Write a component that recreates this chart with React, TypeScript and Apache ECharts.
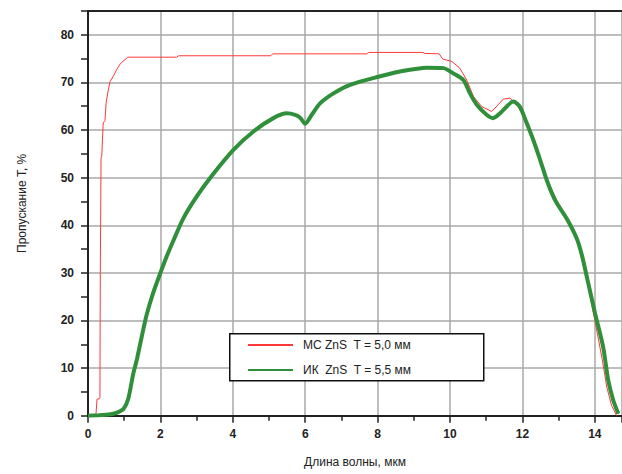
import React, { useEffect, useRef } from "react";
import * as echarts from "echarts";

// МС ZnS, T = 5.0 mm
const redX = [0, 0.22, 0.25, 0.3, 0.33, 0.34, 0.36, 0.38, 0.42, 0.47, 0.5, 0.56, 0.61, 0.7, 0.8, 0.9, 1.1, 2.45, 2.5, 5.05, 5.1, 7.7, 7.75, 9.25, 9.3, 9.7, 9.8, 10.05, 10.27, 10.46, 10.65, 10.88, 11.15, 11.33, 11.47, 11.66, 11.85, 12.12, 12.3, 12.49, 12.67, 12.95, 13.23, 13.5, 13.78, 14.0, 14.2, 14.33, 14.46, 14.6];
const redY = [0, 0.3, 3.5, 3.5, 3.8, 30, 54, 54.5, 61.5, 62, 65.7, 68.4, 70.2, 71.3, 72.8, 74.0, 75.3, 75.3, 75.6, 75.6, 76.0, 76.0, 76.3, 76.3, 76.1, 76.0, 74.9, 74.4, 73.0, 70.5, 67.0, 64.9, 63.9, 65.3, 66.5, 66.7, 65.3, 61.6, 58.2, 54.2, 49.8, 45.2, 41.6, 37, 28.5, 20, 12, 6, 2.2, 0];

// ИК ZnS, T = 5.5 mm
const greenX = [0, 0.3, 0.5, 0.7, 0.85, 0.98, 1.11, 1.25, 1.35, 1.49, 1.62, 1.8, 1.99, 2.17, 2.36, 2.63, 3.0, 3.42, 4.01, 4.57, 5.12, 5.49, 5.72, 5.86, 6.0, 6.18, 6.41, 6.78, 7.24, 8.02, 8.62, 9.36, 9.82, 10.09, 10.37, 10.55, 10.74, 11.01, 11.19, 11.38, 11.75, 11.93, 12.12, 12.3, 12.49, 12.67, 12.82, 12.95, 13.23, 13.5, 13.65, 13.78, 14.0, 14.23, 14.37, 14.51, 14.65];
const greenY = [0, 0.1, 0.2, 0.4, 0.8, 1.4, 3.5, 8.8, 11.8, 16.8, 21.2, 25.8, 29.8, 33.4, 36.8, 41.4, 46, 50.4, 55.8, 59.7, 62.5, 63.5, 63.2, 62.6, 61.3, 63.2, 65.6, 67.7, 69.5, 71.2, 72.3, 73.1, 73.0, 71.9, 70.5, 67.7, 65.3, 63.2, 62.5, 63.5, 66, 64.9, 61.4, 57.9, 53.7, 49.5, 46.6, 44.6, 41.3, 37.2, 33.5, 29.1, 21.7, 14.4, 7.4, 3.2, 0.4];

const seriesNames = ["МС ZnS  T = 5,0 мм", "ИК  ZnS  T = 5,5 мм"];
const xTitle = "Длина волны, мкм";
const yTitle = "Пропускание Т, %";

const zip = (xs: number[], ys: number[]) => xs.map((x, i) => [x, ys[i]]);

const FONT = "'Liberation Sans', Arial, sans-serif";
const AXIS = "#222";
const GRID = "#a8a8a8";

export default function App() {
  const ref = useRef<HTMLDivElement>(null);
  useEffect(() => {
    const chart = echarts.init(ref.current!, null, { renderer: "svg" });
    const labelStyle = { color: AXIS, fontSize: 12, fontWeight: "bold" as const, fontFamily: FONT };
    chart.setOption({
      animation: false,
      backgroundColor: "#fff",
      grid: { left: 88, right: 0, top: 11, bottom: 58.3, containLabel: false },
      xAxis: [
        {
          type: "value",
          min: 0,
          max: 14.75,
          interval: 2,
          position: "bottom",
          axisLine: { show: true, onZero: false, lineStyle: { color: AXIS, width: 2 } },
          axisTick: { show: true, inside: false, length: 7, lineStyle: { color: AXIS, width: 1.5 } },
          minorTick: { show: true, splitNumber: 2, length: 5, lineStyle: { color: AXIS, width: 1.5 } },
          splitLine: { show: true, lineStyle: { color: GRID, width: 1.5 } },
          axisLabel: { ...labelStyle, margin: 12, showMaxLabel: false },
          name: xTitle,
          nameLocation: "middle",
          nameGap: 40,
          nameTextStyle: { color: AXIS, fontSize: 12, fontFamily: FONT },
        },
        {
          type: "value",
          min: 0,
          max: 14.75,
          position: "top",
          axisLine: { show: true, onZero: false, lineStyle: { color: AXIS, width: 2 } },
          axisTick: { show: false },
          axisLabel: { show: false },
          splitLine: { show: false },
        },
      ],
      yAxis: {
        type: "value",
        min: 0,
        max: 85,
        interval: 10,
        axisLine: { show: true, onZero: false, lineStyle: { color: AXIS, width: 2 } },
        axisTick: { show: true, inside: false, length: 7, lineStyle: { color: AXIS, width: 1.5 } },
        minorTick: { show: true, splitNumber: 2, length: 7, lineStyle: { color: AXIS, width: 1.5 } },
        splitLine: { show: true, lineStyle: { color: GRID, width: 1.5 } },
        axisLabel: { ...labelStyle, margin: 14, showMaxLabel: false },
        name: yTitle,
        nameLocation: "middle",
        nameGap: 60,
        nameRotate: 90,
        nameTextStyle: { color: AXIS, fontSize: 12, fontFamily: FONT, padding: [0, 0, 0, 20] },
      },
      legend: {
        data: seriesNames,
        orient: "vertical",
        left: 247,
        top: 339,
        padding: 0,
        itemWidth: 45,
        itemHeight: 14,
        itemGap: 13,
        z: 20,
        itemStyle: { opacity: 0 },
        textStyle: { color: AXIS, fontSize: 12, fontFamily: FONT, padding: [0, 0, 0, 5] },
      },
      graphic: [
        {
          type: "rect",
          left: 229,
          top: 333,
          z: 10,
          shape: { width: 254, height: 47 },
          style: { fill: "#fff", stroke: "#111", lineWidth: 1.5 },
        },
      ],
      series: [
        {
          name: seriesNames[0],
          type: "line",
          symbol: "none",
          data: zip(redX, redY),
          lineStyle: { color: "#ff3838", width: 1 },
          itemStyle: { color: "#ff3838" },
          z: 3,
        },
        {
          name: seriesNames[1],
          type: "line",
          symbol: "none",
          smooth: 0.25,
          data: zip(greenX, greenY),
          lineStyle: { color: "#2f8f3a", width: 4 },
          itemStyle: { color: "#2f8f3a" },
          z: 4,
        },
      ],
    });
    return () => chart.dispose();
  }, []);
  return (
    <div
      ref={ref}
      style={{ position: "fixed", left: 0, top: 0, width: 622, height: 474, background: "#fff" }}
    />
  );
}
